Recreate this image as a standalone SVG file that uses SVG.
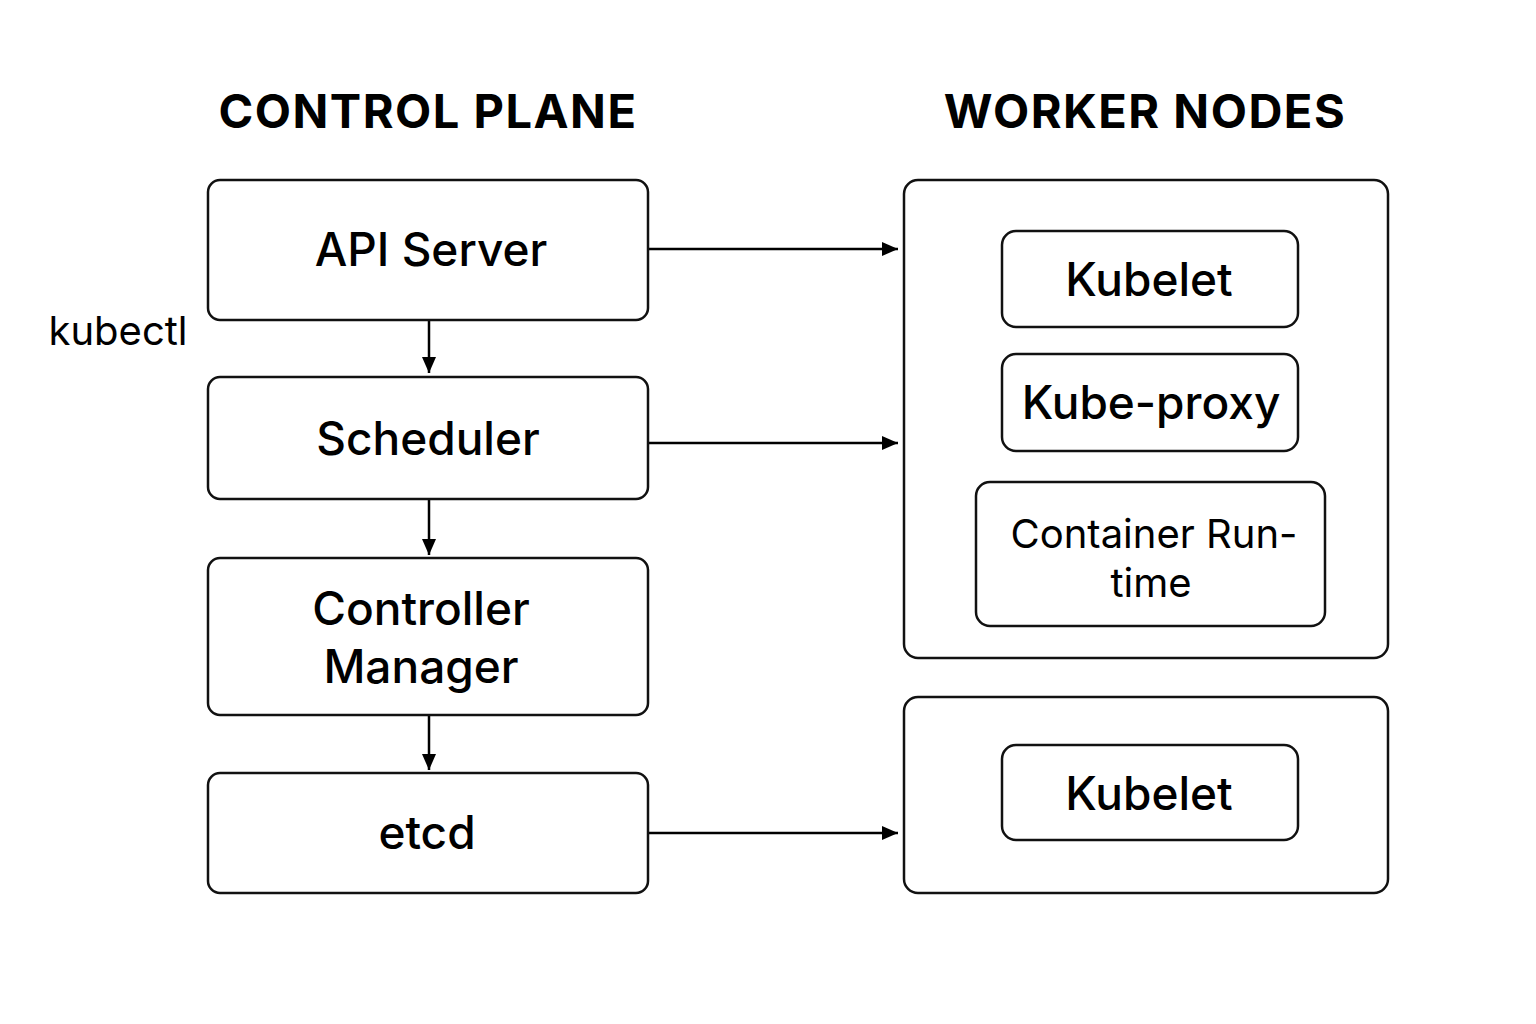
<svg xmlns="http://www.w3.org/2000/svg" width="1536" height="1024" viewBox="0 0 1536 1024">
<style>
.box{fill:#fff;stroke:#111;stroke-width:2.5}
.t{font-family:Inter,"Liberation Sans",Arial,sans-serif;fill:#000;text-anchor:middle}
.n{font-size:46px;font-weight:500}
.h{font-size:47px;font-weight:bold;letter-spacing:1.5px}
.c{stroke:#000;stroke-width:2.5;fill:none}
</style>
<defs>
<marker id="ah2" markerWidth="16" markerHeight="14" refX="16" refY="7" orient="auto" markerUnits="userSpaceOnUse" viewBox="0 0 16 14">
<path d="M0,0 L16,7 L0,14 Z" fill="#000"/>
</marker>
</defs>
<rect width="1536" height="1024" fill="#fff"/>
<text class="t h" x="428" y="128">CONTROL PLANE</text>
<text class="t h" x="1145" y="128">WORKER NODES</text>
<text class="t" x="118" y="345" style="font-size:40px">kubectl</text>
<g id="connectors">
<line class="c" x1="648" y1="249" x2="898" y2="249" marker-end="url(#ah2)"/>
<line class="c" x1="648" y1="443" x2="898" y2="443" marker-end="url(#ah2)"/>
<line class="c" x1="648" y1="833" x2="898" y2="833" marker-end="url(#ah2)"/>
<line class="c" x1="429" y1="320" x2="429" y2="373" marker-end="url(#ah2)"/>
<line class="c" x1="429" y1="499" x2="429" y2="555" marker-end="url(#ah2)"/>
<line class="c" x1="429" y1="715" x2="429" y2="770" marker-end="url(#ah2)"/>
</g>
<g id="api-server"><rect class="box" x="208" y="180" width="440" height="140" rx="12"/><text class="t n" x="431" y="266">API Server</text></g>
<g id="scheduler"><rect class="box" x="208" y="377" width="440" height="122" rx="12"/><text class="t n" x="428" y="455">Scheduler</text></g>
<g id="controller-manager"><rect class="box" x="208" y="558" width="440" height="157" rx="12"/><text class="t n" x="421" y="625">Controller</text><text class="t n" x="421" y="683">Manager</text></g>
<g id="etcd"><rect class="box" x="208" y="773" width="440" height="120" rx="12"/><text class="t n" x="427" y="849">etcd</text></g>
<g id="worker-node-1"><rect class="box" x="904" y="180" width="484" height="478" rx="14"/></g>
<g id="kubelet-1"><rect class="box" x="1002" y="231" width="296" height="96" rx="14"/><text class="t n" x="1149" y="296">Kubelet</text></g>
<g id="kube-proxy"><rect class="box" x="1002" y="354" width="296" height="97" rx="14"/><text class="t n" x="1151" y="419">Kube-proxy</text></g>
<g id="container-runtime"><rect class="box" x="976" y="482" width="349" height="144" rx="14"/><text class="t" x="1154" y="548" style="font-size:40px">Container Run-</text><text class="t" x="1151" y="597" style="font-size:40px">time</text></g>
<g id="worker-node-2"><rect class="box" x="904" y="697" width="484" height="196" rx="14"/></g>
<g id="kubelet-2"><rect class="box" x="1002" y="745" width="296" height="95" rx="14"/><text class="t n" x="1149" y="810">Kubelet</text></g>
</svg>
